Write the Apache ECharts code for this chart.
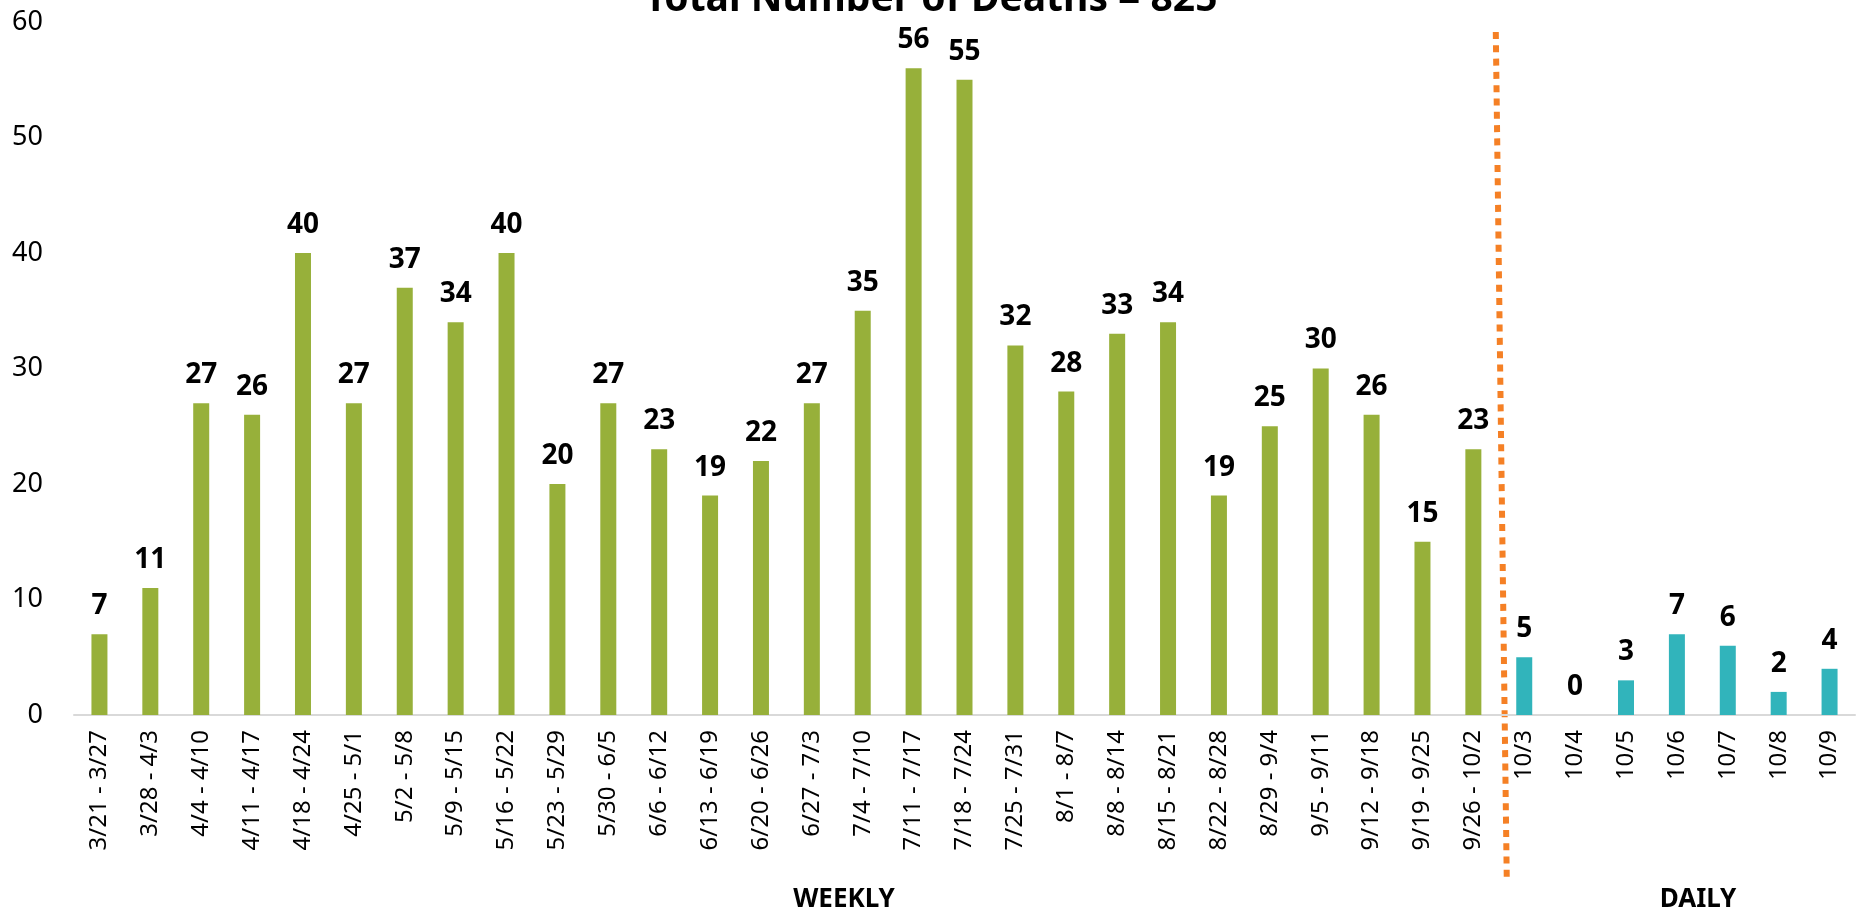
<!DOCTYPE html>
<html>
<head>
<meta charset="utf-8">
<script src="https://cdn.jsdelivr.net/npm/echarts@6/dist/echarts.min.js"></script>
<style>
  html, body { margin: 0; padding: 0; background: #fff; }
  #chart { width: 1864px; height: 914px; }
</style>
</head>
<body>
<div id="chart"></div>
<script>
// weekly totals
const weeklyLabels = ['3/21 - 3/27', '3/28 - 4/3', '4/4 - 4/10', '4/11 - 4/17', '4/18 - 4/24', '4/25 - 5/1',
  '5/2 - 5/8', '5/9 - 5/15', '5/16 - 5/22', '5/23 - 5/29', '5/30 - 6/5', '6/6 - 6/12', '6/13 - 6/19',
  '6/20 - 6/26', '6/27 - 7/3', '7/4 - 7/10', '7/11 - 7/17', '7/18 - 7/24', '7/25 - 7/31', '8/1 - 8/7',
  '8/8 - 8/14', '8/15 - 8/21', '8/22 - 8/28', '8/29 - 9/4', '9/5 - 9/11', '9/12 - 9/18', '9/19 - 9/25',
  '9/26 - 10/2']
const weeklyValues = [7, 11, 27, 26, 40, 27, 37, 34, 40, 20, 27, 23, 19, 22, 27, 35, 56, 55, 32, 28, 33, 34,
  19, 25, 30, 26, 15, 23]

// daily totals
const dailyLabels = ['10/3', '10/4', '10/5', '10/6', '10/7', '10/8', '10/9']
const dailyValues = [5, 0, 3, 7, 6, 2, 4]

const yTicks = [0, 10, 20, 30, 40, 50, 60]

const weeklyColor = '#97B03A'
const dailyColor = '#31B4BB'
const font = 'Noto Sans'

const categories = weeklyLabels.concat(dailyLabels)
const barData = weeklyValues.map(v => ({ value: v, itemStyle: { color: weeklyColor } }))
  .concat(dailyValues.map(v => ({ value: v, itemStyle: { color: dailyColor } })))

const chart = echarts.init(document.getElementById('chart'))
chart.setOption({
  animation: false,
  title: {
    text: 'Total Number of Deaths = 825',
    left: 926,
    top: -25,
    textAlign: 'center',
    textStyle: { fontFamily: font, fontSize: 39, fontWeight: 'bold', color: '#000' }
  },
  grid: { left: 74, right: 9, top: 22, bottom: 199, containLabel: false },
  xAxis: {
    type: 'category',
    data: categories,
    axisLine: { lineStyle: { color: '#d9d9d9', width: 2 } },
    axisTick: { show: false },
    axisLabel: {
      interval: 0,
      rotate: 90,
      margin: 15,
      fontFamily: font,
      fontSize: 24,
      color: '#000'
    }
  },
  yAxis: {
    type: 'value',
    min: yTicks[0],
    max: yTicks[yTicks.length - 1],
    interval: 10,
    splitLine: { show: false },
    axisLine: { show: false },
    axisTick: { show: false },
    axisLabel: { fontFamily: font, fontSize: 27, color: '#000', margin: 31 }
  },
  series: [
    {
      type: 'bar',
      data: barData,
      barWidth: 16,
      label: {
        show: true,
        position: 'top',
        distance: 14,
        fontFamily: font,
        fontSize: 28,
        fontWeight: 'bold',
        color: '#000'
      }
    }
  ]
})

// dotted divider between weekly and daily sections
const xLast = chart.convertToPixel({ xAxisIndex: 0 }, weeklyLabels[weeklyLabels.length - 1])
const xFirst = chart.convertToPixel({ xAxisIndex: 0 }, dailyLabels[0])
const xDiv = (xLast + xFirst) / 2

chart.setOption({
  graphic: [
    {
      type: 'line',
      shape: { x1: xDiv - 3, y1: 32, x2: xDiv + 8, y2: 882 },
      style: { stroke: '#F58025', lineWidth: 6, lineDash: [7, 6.3] }
    },
    {
      type: 'text',
      x: 844,
      y: 900,
      style: { text: 'WEEKLY', fill: '#000', font: 'bold 26px "Noto Sans"', textAlign: 'center', textVerticalAlign: 'middle' }
    },
    {
      type: 'text',
      x: 1698,
      y: 900,
      style: { text: 'DAILY', fill: '#000', font: 'bold 26px "Noto Sans"', textAlign: 'center', textVerticalAlign: 'middle' }
    }
  ]
})
</script>
</body>
</html>
